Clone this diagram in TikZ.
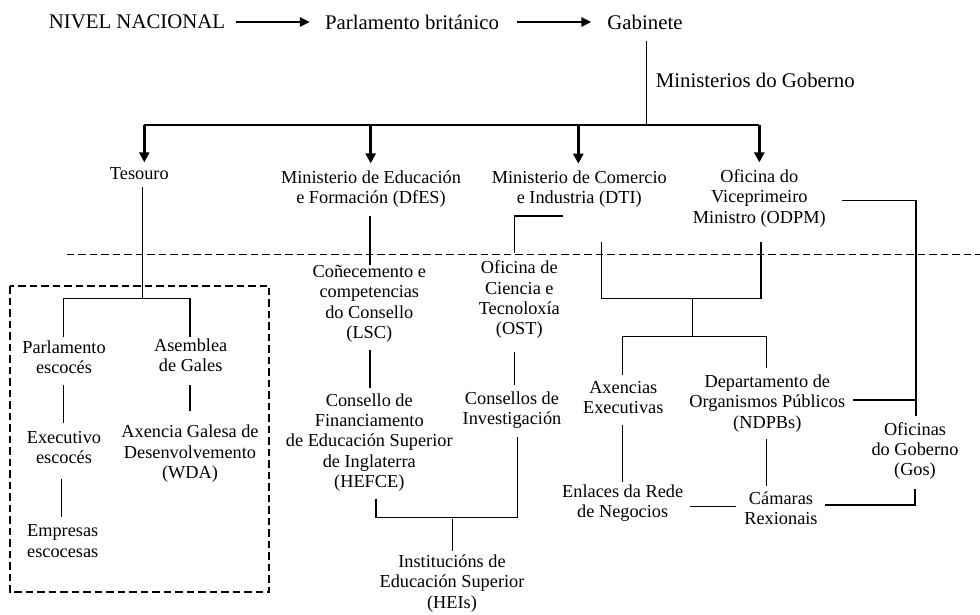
\documentclass[tikz,border=0pt]{standalone}
\usepackage{fontspec}
\setmainfont{Liberation Serif}
\usetikzlibrary{arrows.meta}
\tikzset{
  lbl/.style={align=center, inner sep=0pt, font=\fontsize{18.3}{20.3}\selectfont},
  big/.style={inner sep=0pt, font=\fontsize{20.8}{24}\selectfont},
  ln/.style={line width=1.1pt},
  bus/.style={line width=1.4pt},
  tarr/.style={line width=2.4pt, -{Triangle[length=10pt,width=9pt]}},
  darr/.style={line width=2.6pt, -{Triangle[length=10pt,width=10pt]}},
  dsh/.style={line width=1.8pt, dash pattern=on 7.5pt off 4pt},
}
\begin{document}
\begin{tikzpicture}[x=1pt,y=-1pt]
\useasboundingbox (0,0) rectangle (980,614);
% top row
\node[big] (nivel) at (137,22) {NIVEL NACIONAL};
\node[big] (parl) at (412,22) {Parlamento británico};
\node[big] (gab) at (645,22) {Gabinete};
\node[big,anchor=west] (mdg) at (655.7,80) {Ministerios do Goberno};
\draw[tarr, shorten <=10.7pt, shorten >=15pt] (nivel.east) -- (parl.west);
\draw[tarr, shorten <=18.3pt, shorten >=16pt] (parl.east) -- (gab.west);
% ministries
\node[lbl] (tes) at (139.3,173.3) {Tesouro};
\node[lbl] (dfes) at (371,189) {Ministerio de Educación\\e Formación (DfES)};
\node[lbl] (dti) at (579.3,189.3) {Ministerio de Comercio\\e Industria (DTI)};
\node[lbl] (odpm) at (759.3,198.3) {Oficina do\\Viceprimeiro\\Ministro (ODPM)};
\coordinate (hub) at (646.7,125);
\coordinate (b1) at (144.3,125);
\coordinate (b2) at (370.7,125);
\coordinate (b3) at (578.3,125);
\coordinate (b4) at (759.3,125);
\draw[ln, shorten <=11pt] (gab.south -| hub) -- (hub);
\draw[bus] (b1) -- (b4);
\draw[darr, shorten >=4.7pt] (b1) -- (b1 |- tes.north);
\draw[darr, shorten >=7pt] (b2) -- (b2 |- dfes.north);
\draw[darr, shorten >=7pt] (b3) -- (b3 |- dti.north);
\draw[darr, shorten >=7pt] (b4) -- (b4 |- odpm.north);
% dashed separator and box
\coordinate (dl) at (66.7,254.5);
\coordinate (dr) at (980,254.5);
\draw[dsh] (dl) -- (dr);
\coordinate (bx1) at (10,286);
\coordinate (bx2) at (269.3,592.3);
\draw[dsh] (bx1) rectangle (bx2);
% Scotland / Wales
\node[lbl] (parlesc) at (64,357.2) {Parlamento\\escocés};
\node[lbl] (asemb) at (190.7,355.3) {Asemblea\\de Gales};
\node[lbl] (exec) at (64,447.3) {Executivo\\escocés};
\node[lbl] (empr) at (62.7,541.2) {Empresas\\escocesas};
\node[lbl] (wda) at (190,453.7) {Axencia Galesa de\\Desenvolvemento\\(WDA)};
\coordinate (jt) at (142.3,298.3);
\draw[ln, shorten <=7.4pt] (tes.south -| jt) -- (jt);
\draw[ln, shorten <=3pt, shorten >=2pt] ([xshift=-0.7pt]parlesc.north) |- (jt) -| ([xshift=-0.7pt]asemb.north);
\draw[ln, shorten <=11.3pt, shorten >=8.3pt] ([xshift=-0.7pt]parlesc.south) -- ([xshift=-0.7pt]parlesc.south |- exec.north);
\draw[ln, shorten <=15.4pt, shorten >=7.7pt] ([xshift=-2.7pt]exec.south) -- ([xshift=-2.7pt]exec.south |- empr.north);
\draw[ln, shorten <=13.3pt, shorten >=14.3pt] ([xshift=-0.7pt]asemb.south) -- ([xshift=-0.7pt]asemb.south |- wda.north);
% Education
\node[lbl] (lsc) at (369.3,303.8) {Coñecemento e\\competencias\\do Consello\\(LSC)};
\node[lbl] (hefce) at (369.3,442.5) {Consello de\\Financiamento\\de Educación Superior\\de Inglaterra\\(HEFCE)};
\node[lbl] (ost) at (519.3,299.7) {Oficina de\\Ciencia e\\Tecnoloxía\\(OST)};
\node[lbl] (cons) at (512,410) {Consellos de\\Investigación};
\node[lbl] (hei) at (452,583.5) {Institucións de\\Educación Superior\\(HEIs)};
\draw[ln, shorten <=8.7pt] ([xshift=-1pt]dfes.south) -- ([xshift=-1pt]dfes.south |- lsc.north);
\draw[ln, shorten <=7.7pt, shorten >=5.4pt] ([xshift=0.7pt]lsc.south) -- ([xshift=0.7pt]lsc.south |- hefce.north);
\coordinate (jh) at (452.3,517.3);
\draw[ln, shorten <=7pt, shorten >=8pt] ([xshift=6.7pt]hefce.south) |- (jh) -| ([xshift=5.7pt]cons.south);
\draw[ln, shorten <=2pt, shorten >=3.6pt] (jh) -- (jh |- hei.north);
\coordinate (jd) at (563.3,216);
\draw[ln, shorten >=7.3pt] (jd) -| ([xshift=-5pt]ost.north);
\draw[ln, shorten <=13.7pt, shorten >=6.3pt] ([xshift=-5pt]ost.south) -- ([xshift=-5pt]ost.south |- cons.north);
% Trade / ODPM branch
\node[lbl] (axe) at (623.3,397.5) {Axencias\\Executivas};
\node[lbl] (ndpb) at (767.3,403.5) {Departamento de\\Organismos Públicos\\(NDPBs)};
\node[lbl] (gos) at (915,451) {Oficinas\\do Goberno\\(Gos)};
\node[lbl] (enl) at (622.7,503.2) {Enlaces da Rede\\de Negocios};
\node[lbl] (cam) at (781,508) {Cámaras\\Rexionais};
\coordinate (jdl) at (601.7,241.7);
\coordinate (jm) at (692.3,298.3);
\coordinate (jm2) at (692.3,336.7);
\draw[ln, shorten >=14.4pt] (jdl) |- (jm) -| ([xshift=1.7pt]odpm.south);
\draw[ln] (jm) -- (jm2);
\draw[ln, shorten <=6pt, shorten >=6.3pt] ([xshift=-1pt]axe.north) |- (jm2) -| ([xshift=-0.6pt]ndpb.north);
\draw[ln, shorten <=11.3pt, shorten >=2.6pt] ([xshift=-1pt]axe.south) -- ([xshift=-1pt]axe.south |- enl.north);
\draw[ln, shorten <=6.3pt, shorten >=5.3pt] ([xshift=-0.6pt]ndpb.south) -- ([xshift=-0.6pt]ndpb.south |- cam.north);
\draw[ln, shorten <=7pt, shorten >=8.4pt] ([yshift=-3.5pt]enl.east) -- ([yshift=-3.5pt]enl.east -| cam.west);
\draw[ln, shorten <=16pt, shorten >=6.3pt] ([yshift=-2.4pt]odpm.east) -| ([xshift=1pt]gos.north);
\draw[ln, shorten <=8pt] ([yshift=3.5pt]ndpb.east) -- ([yshift=3.5pt,xshift=1pt]ndpb.east -| gos.north);
\draw[ln, shorten <=8.6pt, shorten >=7.4pt] (gos.south) |- ([yshift=3pt]cam.east);
\end{tikzpicture}
\end{document}
